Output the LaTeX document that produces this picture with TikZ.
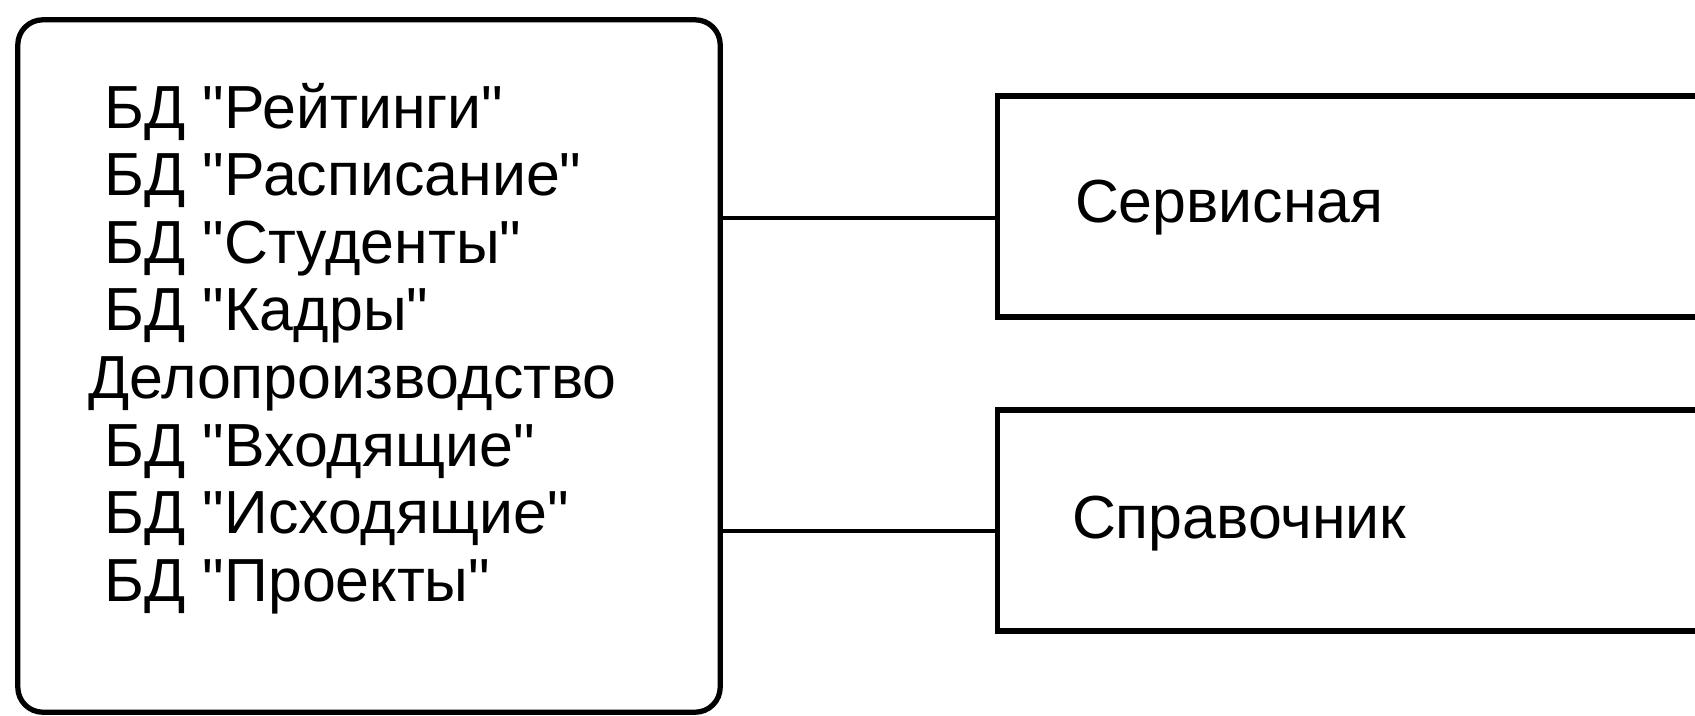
\documentclass[tikz,border=0pt]{standalone}
\usepackage{fontspec}
\setmainfont{Liberation Sans}[Ligatures=TeXOff]
\begin{document}
\begin{tikzpicture}[x=0.01cm,y=-0.01cm,
  boxline/.style={draw=black,line width=1.5pt,inner sep=0pt,outer sep=0pt},
  dbbox/.style={boxline,rounded corners=0.25cm,minimum width=7.02cm,minimum height=6.92cm},
  sysbox/.style={boxline,minimum width=7.22cm,minimum height=2.21cm},
  txt/.style={inner sep=0pt,outer sep=0pt,anchor=base west,font=\fontsize{17.3pt}{20pt}\selectfont},
  link/.style={draw=black,line width=1.2pt}]
\useasboundingbox (0,0) rectangle (1695,715);
\clip (0,0) rectangle (1695,715);
\fill[white] (0,0) rectangle (1695,715);
\node[dbbox] (db) at (369,366) {};
\node[sysbox] (serv) at (1359,206.5) {};
\node[sysbox] (sprav) at (1359,520.5) {};
\foreach \t [count=\i] in {\ БД "Рейтинги",\ БД "Расписание",\ БД "Студенты",\ БД "Кадры",Делопроизводство,\ БД "Входящие",\ БД "Исходящие",\ БД "Проекты"}
  \node[txt] (l\i) at (88,{128+67.6*(\i-1)}) {\t};
\node[txt] (servt) at (1075,222) {Сервисная};
\node[txt] (spravt) at (1072,538) {Справочник};
\coordinate (c1) at (0,218);
\coordinate (c2) at (0,531);
\draw[link] (db.east |- c1) -- (serv.west |- c1);
\draw[link] (db.east |- c2) -- (sprav.west |- c2);
\end{tikzpicture}
\end{document}
